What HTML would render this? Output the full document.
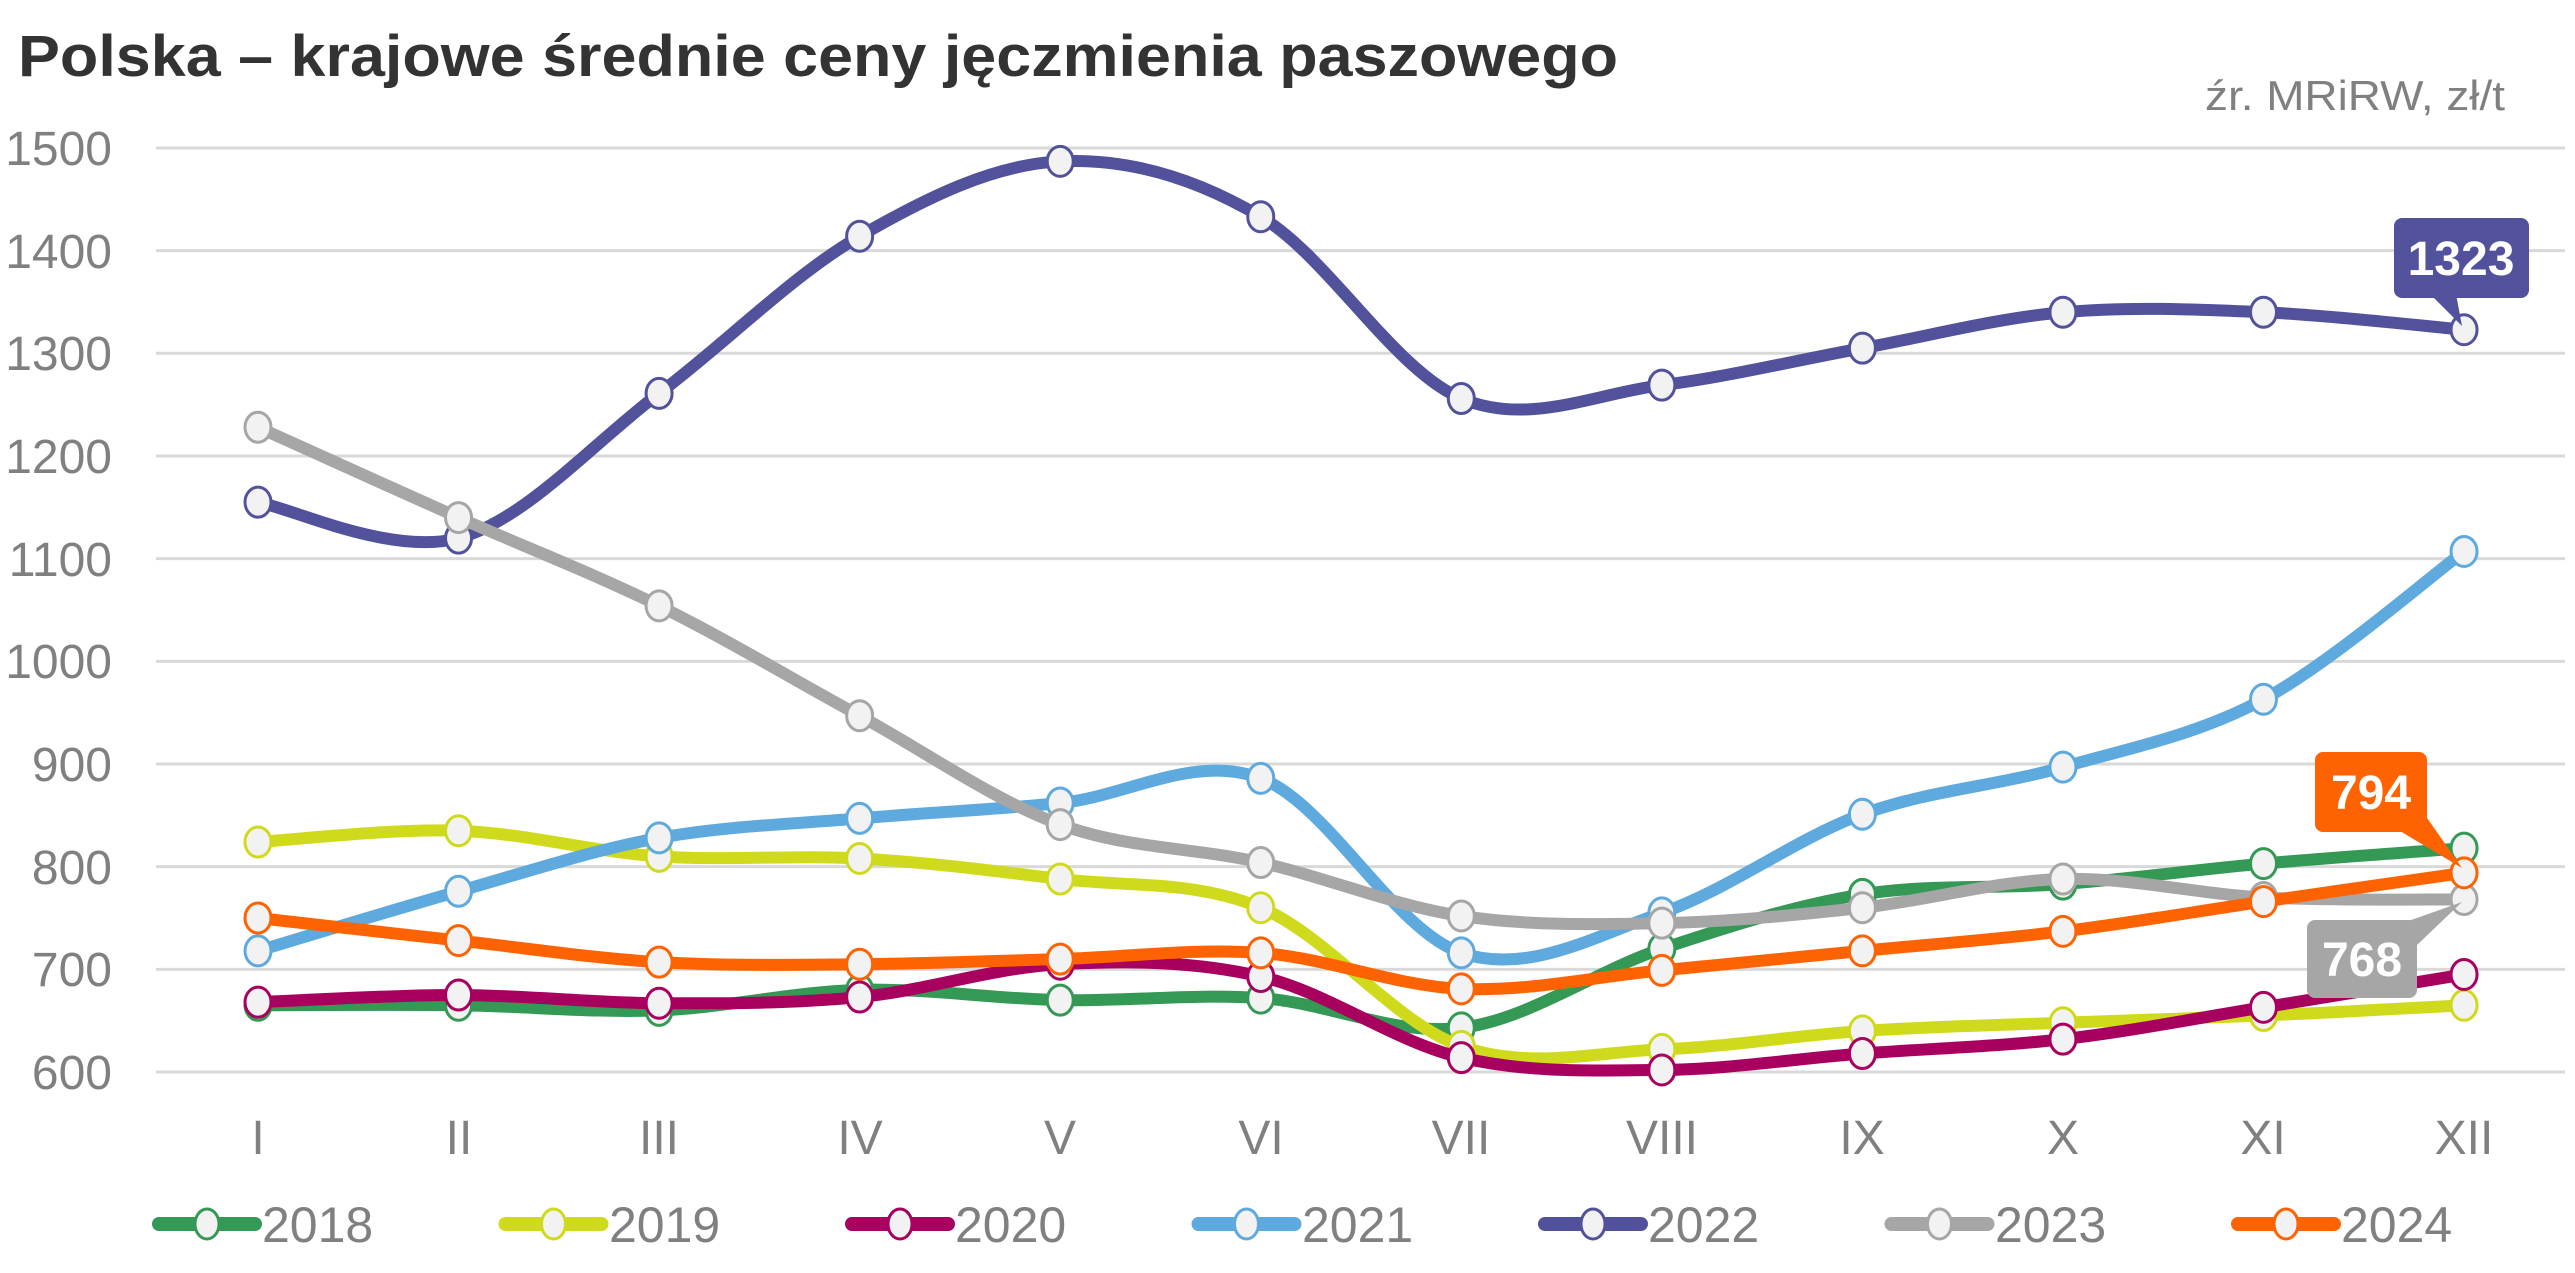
<!DOCTYPE html>
<html><head><meta charset="utf-8"><style>
html,body{margin:0;padding:0;background:#fff;}
svg{display:block;}
text{font-family:"Liberation Sans Narrow","Liberation Sans",sans-serif;}
</style></head><body>
<svg id="c" width="2575" height="1273" viewBox="0 0 2575 1273" xmlns="http://www.w3.org/2000/svg">
<text x="18" y="76" font-size="58" font-weight="bold" fill="#333" font-family="Liberation Sans, sans-serif" textLength="1600" lengthAdjust="spacingAndGlyphs">Polska – krajowe średnie ceny jęczmienia paszowego</text>
<text x="2505" y="110" font-size="42" fill="#808080" text-anchor="end" textLength="300" lengthAdjust="spacingAndGlyphs">źr. MRiRW, zł/t</text>
<g id="grid" stroke="#d9d9d9" stroke-width="3"></g>
<g font-size="48" fill="#808080" text-anchor="end">
<text x="112" y="165">1500</text><text x="112" y="268">1400</text><text x="112" y="370">1300</text>
<text x="112" y="473">1200</text><text x="112" y="576">1100</text><text x="112" y="678">1000</text>
<text x="112" y="781">900</text><text x="112" y="884">800</text><text x="112" y="986">700</text>
<text x="112" y="1089">600</text>
</g>
<g font-size="48" fill="#808080" text-anchor="middle">
<text x="258" y="1154">I</text><text x="459" y="1154">II</text><text x="659" y="1154">III</text>
<text x="860" y="1154">IV</text><text x="1060" y="1154">V</text><text x="1261" y="1154">VI</text>
<text x="1461" y="1154">VII</text><text x="1662" y="1154">VIII</text><text x="1862" y="1154">IX</text>
<text x="2063" y="1154">X</text><text x="2263" y="1154">XI</text><text x="2464" y="1154">XII</text>
</g>
<g id="series"></g>
<g id="legend"></g>
<g font-size="50" fill="#808080">
<text x="262" y="1242">2018</text><text x="609" y="1242">2019</text><text x="955" y="1242">2020</text>
<text x="1302" y="1242">2021</text><text x="1648" y="1242">2022</text><text x="1995" y="1242">2023</text>
<text x="2341" y="1242">2024</text>
</g>
<!-- callouts -->
<rect x="2394" y="218" width="135" height="80" rx="8" fill="#52529c"/>
<path d="M2430 294 L2456 294 L2462 326 Z" fill="#52529c"/>
<text x="2461" y="275" font-size="48" font-weight="bold" fill="#fff" text-anchor="middle" font-family="Liberation Sans, sans-serif">1323</text>
<rect x="2315" y="752" width="112" height="80" rx="8" fill="#ff6200"/>
<path d="M2395 828 L2425 815 L2462 868 Z" fill="#ff6200"/>
<text x="2371" y="809" font-size="48" font-weight="bold" fill="#fff" text-anchor="middle" font-family="Liberation Sans, sans-serif">794</text>
<rect x="2307" y="920" width="110" height="78" rx="8" fill="#a6a6a6"/>
<path d="M2400 924 L2417 945 L2462 902 Z" fill="#a6a6a6"/>
<text x="2362" y="976" font-size="48" font-weight="bold" fill="#fff" text-anchor="middle" font-family="Liberation Sans, sans-serif">768</text>
</svg>
<script>
var NS="http://www.w3.org/2000/svg";
function el(t,a,p){var e=document.createElementNS(NS,t);for(var k in a)e.setAttribute(k,a[k]);p.appendChild(e);return e;}
function Y(v){return 1072-(v-600)*1.0267;}
function X(i){return 258+200.55*i;}
var g=document.getElementById('grid');
for(var v=600;v<=1500;v+=100){var y=Y(v);el('line',{x1:156,x2:2565,y1:y,y2:y},g);}
var S=[
["#339955",[665,665,660,680,670,672,643,720,773,783,803,818]],
["#d0da1c",[824,835,810,808,788,760,625,622,640,648,655,665]],
["#a8005f",[668,675,667,673,705,693,614,602,618,632,663,695]],
["#5ea9dd",[718,776,828,847,862,886,716,755,851,897,963,1107]],
["#52529c",[1155,1120,1261,1414,1487,1433,1256,1269,1305,1340,1340,1323]],
["#a6a6a6",[1228,1140,1054,947,841,804,752,745,760,788,770,768]],
["#ff6200",[750,728,707,705,710,716,681,699,718,737,766,794]]];
var sg=document.getElementById('series');
S.forEach(function(s){
 var p=s[1].map(function(v,i){return [X(i),Y(v)];});
 var d="M"+p[0][0]+" "+p[0][1];
 for(var i=0;i<p.length-1;i++){
  var p0=p[i-1]||p[i],p1=p[i],p2=p[i+1],p3=p[i+2]||p[i+1];
  var c1=[p1[0]+(p2[0]-p0[0])/6,p1[1]+(p2[1]-p0[1])/6];
  var c2=[p2[0]-(p3[0]-p1[0])/6,p2[1]-(p3[1]-p1[1])/6];
  d+=" C"+c1+" "+c2+" "+p2;
 }
 el('path',{d:d,fill:'none',stroke:s[0],'stroke-width':12,'stroke-linecap':'round','stroke-linejoin':'round'},sg);
 p.forEach(function(q){el('ellipse',{cx:q[0],cy:q[1],rx:13,ry:15,fill:'#f2f2f2',stroke:s[0],'stroke-width':3},sg);});
});
var lg=document.getElementById('legend');
S.forEach(function(s,i){
 var x=159+346.5*i,y=1224;
 el('line',{x1:x,x2:x+96,y1:y,y2:y,stroke:s[0],'stroke-width':14,'stroke-linecap':'round'},lg);
 el('ellipse',{cx:x+48,cy:y,rx:12,ry:15,fill:'#f2f2f2',stroke:s[0],'stroke-width':3},lg);
});
</script>
</body></html>
